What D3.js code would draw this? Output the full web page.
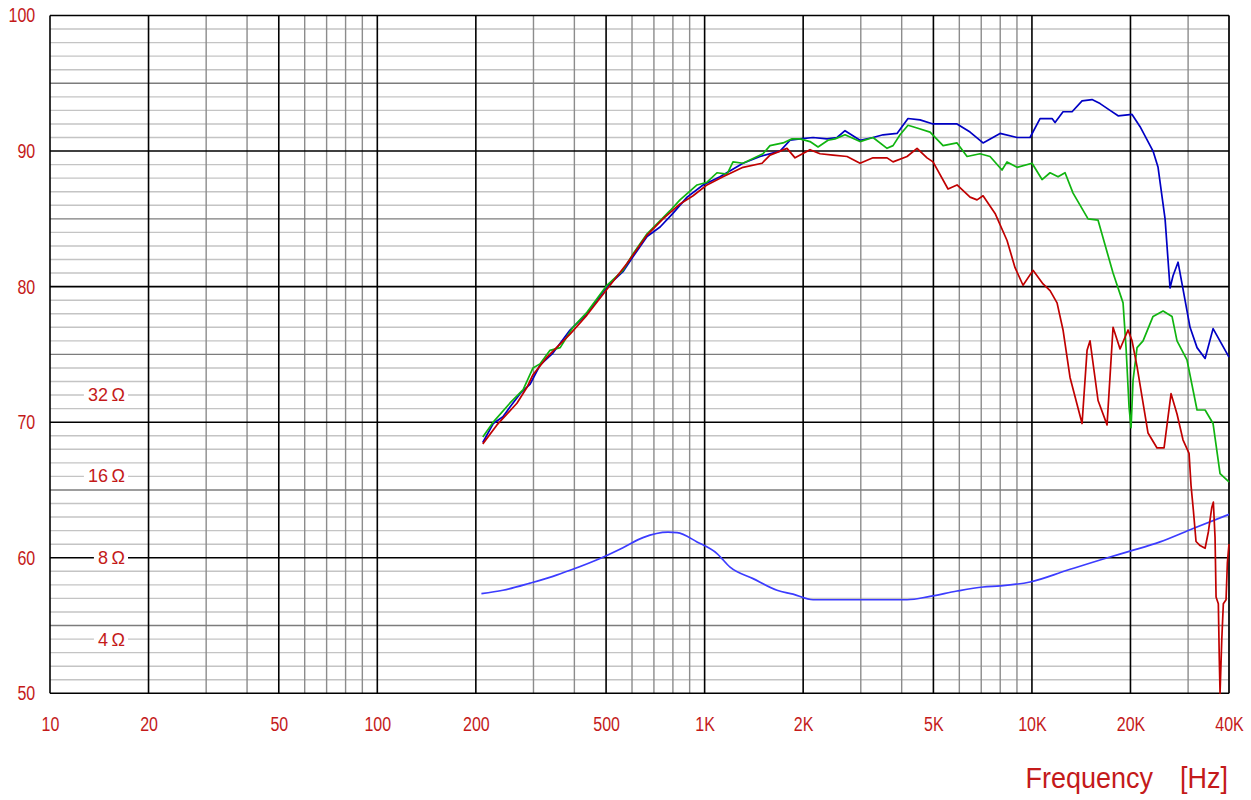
<!DOCTYPE html>
<html>
<head>
<meta charset="utf-8">
<script src="https://cdn.jsdelivr.net/npm/d3@7"></script>
<style>
html,body{margin:0;padding:0;background:#fff;overflow:hidden}
</style>
</head>
<body>
<svg id="chart" width="1251" height="800"></svg>
<script>
// ---------- data ----------
const freqTicks = [10, 20, 50, 100, 200, 500, 1000, 2000, 5000, 10000, 20000, 40000];
const freqTickLabels = ["10", "20", "50", "100", "200", "500", "1K", "2K", "5K", "10K", "20K", "40K"];
const dbTicks = [50, 60, 70, 80, 90, 100];
const ohmTicks = [4, 8, 16, 32];
const ohmTickLabels = ["4\u2009\u03A9", "8\u2009\u03A9", "16\u2009\u03A9", "32\u2009\u03A9"];
const axisTitle = ["Frequency", "[Hz]"];

// SPL, blue (Hz / dB)
const blueFreq = [210,226,242,254,273,293,314,344,388,437,503,563,604,667,731,800,884,989,1114,1310,1477,1700,1824,1956,2144,2366,2539,2685,2984,3269,3509,3871,4182,4551,4986,5904,6471,7090,7990,9006,9867,10586,11520,11766,12445,13262,14228,15262,16151,17324,18333,20225,21400,23442,24284,25512,26419,26984,27950,28749,30410,31945,33810,35760,40000];
const blueDb = [68.5,69.9,70.4,71.1,72.1,72.8,74.2,75.1,76.8,78.0,80.0,81.1,82.2,83.7,84.4,85.4,86.6,87.5,88.1,89.1,89.6,90.0,90.8,90.9,91.0,90.9,91.0,91.5,90.8,91.0,91.2,91.3,92.4,92.3,92.0,92.0,91.4,90.6,91.3,91.0,91.0,92.4,92.4,92.1,92.9,92.9,93.7,93.8,93.5,93.0,92.6,92.7,91.8,90.0,88.8,85.0,79.9,80.8,81.8,80.2,77.0,75.5,74.7,76.9,74.8];

// SPL, green (Hz / dB)
const greenFreq = [210,226,254,279,299,314,337,362,396,437,503,563,604,667,784,841,948,1017,1091,1171,1221,1310,1508,1584,1736,1849,1956,2099,2221,2382,2503,2685,2984,3269,3609,3764,3954,4182,4457,4884,5352,5904,6336,6941,7448,8101,8393,9006,10007,10737,11360,12017,12623,13354,14840,15922,17693,18983,19387,19803,20083,20368,20949,21850,23442,25155,26792,27750,29765,31945,33810,35760,37560,40000];
const greenDb = [68.9,70.0,71.4,72.4,74.0,74.3,75.3,75.5,77.0,78.1,80.1,81.2,82.4,83.9,85.6,86.4,87.5,87.7,88.4,88.3,89.2,89.1,89.8,90.4,90.6,90.9,90.9,90.7,90.3,90.8,90.9,91.2,90.7,91.0,90.2,90.4,91.2,91.9,91.7,91.4,90.4,90.6,89.6,89.8,89.6,88.6,89.2,88.8,89.1,87.9,88.4,88.1,88.4,86.9,85.0,84.9,81.0,78.8,75.5,71.1,69.6,73.1,75.5,76.0,77.8,78.2,77.8,76.0,74.6,70.9,70.9,69.9,66.2,65.6];

// SPL, red (Hz / dB)
const redFreq = [210,232,267,287,299,330,388,437,503,579,667,746,841,922,1017,1138,1310,1498,1584,1785,1889,2099,2252,2468,2724,2984,3269,3609,3764,4154,4457,4781,4986,5542,5904,6471,6797,7090,7716,8393,8880,9393,10078,10813,11360,11933,12445,13074,14228,14737,15050,15922,16963,17693,18587,19664,20225,20949,22630,24110,25332,26607,27750,28938,30200,30630,31130,31720,32630,33810,34590,35430,35830,36260,36520,37110,37370,37560,38010,38440,39180,39540,40000];
const redDb = [68.4,69.8,71.4,72.6,73.5,74.8,76.5,77.9,79.8,81.7,83.8,85.0,86.1,86.7,87.5,88.1,88.8,89.1,89.7,90.2,89.5,90.1,89.8,89.7,89.6,89.1,89.5,89.5,89.2,89.6,90.2,89.5,89.2,87.2,87.5,86.6,86.4,86.7,85.4,83.4,81.4,80.1,81.2,80.2,79.7,78.8,76.8,73.3,69.9,75.3,76.0,71.6,69.8,77.0,75.4,76.8,76.0,74.1,69.2,68.1,68.1,72.1,70.6,68.7,67.7,65.3,63.5,61.2,60.9,60.7,61.9,63.7,64.1,61.5,57.1,56.6,52.4,50.0,53.9,56.6,56.9,59.6,61.0];

// Impedance (Hz / ohm)
const impFreq = [208,242,293,344,388,485,563,648,773,824,948,1091,1196,1406,1664,1863,2144,3000,4154,4884,5904,7089,8000,9867,12802,17325,19937,24630,31070,40000];
const impOhm = [5.90,6.07,6.45,6.83,7.19,8.00,8.71,9.49,9.94,9.90,9.15,8.29,7.39,6.70,6.07,5.87,5.60,5.60,5.60,5.76,6.03,6.24,6.30,6.51,7.19,8.05,8.46,9.15,10.25,11.56];

// ---------- chart ----------
const svg = d3.select("#chart");
const pL = 50, pR = 1229, pT = 15.5, pB = 693.3;
const x = d3.scaleLog().domain([10, 40000]).range([pL, pR]);
const y = d3.scaleLinear().domain([50, 100]).range([pB, pT]);
// impedance scale: 8 ohm sits on 60 dB, 6 dB per doubling
const yOhm = d3.scaleLog().domain([8 * Math.pow(10, -0.5), 8 * Math.pow(10, 2)]).range([pB, pT]);

const textRed = "#c41a1a";
const fontFam = "'Liberation Sans', Arial, sans-serif";

svg.append("rect").attr("width", 1251).attr("height", 800).attr("fill", "#fff");

const grid = svg.append("g");
const dbAll = d3.range(51, 100);
grid.selectAll(".hl").data(dbAll.filter(d => d % 5 !== 0)).join("line")
  .attr("x1", pL).attr("x2", pR).attr("y1", d => y(d)).attr("y2", d => y(d))
  .attr("stroke", "#c4c4c4").attr("stroke-width", 1.4);
const minorF = [], majorF = [];
[10, 100, 1000, 10000].forEach(dec => {
  for (let m = 1; m <= 9; m++) {
    const f = dec * m;
    if (f > 40000) break;
    if (m === 1 || m === 2 || m === 5) majorF.push(f); else minorF.push(f);
  }
});
majorF.push(40000);
grid.selectAll(".vm").data(minorF).join("line")
  .attr("x1", d => x(d)).attr("x2", d => x(d)).attr("y1", pT).attr("y2", pB)
  .attr("stroke", "#8c8c8c").attr("stroke-width", 1.4);
grid.selectAll(".h5").data(dbAll.filter(d => d % 5 === 0 && d % 10 !== 0)).join("line")
  .attr("x1", pL).attr("x2", pR).attr("y1", d => y(d)).attr("y2", d => y(d))
  .attr("stroke", "#7c7c7c").attr("stroke-width", 1.4);
grid.selectAll(".h10").data(dbTicks).join("line")
  .attr("x1", pL).attr("x2", pR).attr("y1", d => y(d)).attr("y2", d => y(d))
  .attr("stroke", "#000").attr("stroke-width", 1.6);
grid.selectAll(".vM").data(majorF).join("line")
  .attr("x1", d => x(d)).attr("x2", d => x(d)).attr("y1", pT).attr("y2", pB)
  .attr("stroke", "#000").attr("stroke-width", 1.6);

// axes
const xAxis = svg.append("g").attr("transform", `translate(0,${pB})`)
  .call(d3.axisBottom(x).tickValues(freqTicks).tickFormat((d, i) => freqTickLabels[i]).tickSize(0).tickPadding(24));
const yAxis = svg.append("g").attr("transform", `translate(${pL},0)`)
  .call(d3.axisLeft(y).tickValues(dbTicks).tickFormat(d3.format("d")).tickSize(0).tickPadding(18.5));
[xAxis, yAxis].forEach(g => {
  g.select(".domain").remove();
  g.selectAll("text").attr("fill", textRed).attr("font-family", fontFam)
    .attr("font-size", 20).attr("transform", "scale(0.8,1)");
});

// impedance labels
const ohmAxis = svg.append("g").attr("transform", "translate(129,0)")
  .call(d3.axisLeft(yOhm).tickValues(ohmTicks).tickFormat((d, i) => ohmTickLabels[i]).tickSize(0).tickPadding(4));
ohmAxis.select(".domain").remove();
ohmAxis.selectAll("text").attr("fill", textRed).attr("font-family", fontFam).attr("font-size", 18);
ohmAxis.selectAll(".tick").each(function () {
  const t = d3.select(this).select("text");
  const bb = t.node().getBBox();
  d3.select(this).insert("rect", "text")
    .attr("x", bb.x - 4).attr("y", bb.y + 2).attr("width", bb.width + 7).attr("height", bb.height - 4)
    .attr("fill", "#fff");
});

// curves
const lineSpl = d3.line().x(d => x(d[0])).y(d => y(d[1]));
const lineImp = d3.line().x(d => x(d[0])).y(d => yOhm(d[1])).curve(d3.curveMonotoneX);
const curves = svg.append("g").attr("fill", "none").attr("stroke-linejoin", "round");
curves.append("path").attr("d", lineImp(d3.zip(impFreq, impOhm))).attr("stroke", "#3c3cff").attr("stroke-width", 1.7);
curves.append("path").attr("d", lineSpl(d3.zip(blueFreq, blueDb))).attr("stroke", "#0000c4").attr("stroke-width", 1.7);
curves.append("path").attr("d", lineSpl(d3.zip(greenFreq, greenDb))).attr("stroke", "#10b410").attr("stroke-width", 1.7);
curves.append("path").attr("d", lineSpl(d3.zip(redFreq, redDb))).attr("stroke", "#c00000").attr("stroke-width", 1.7);

// axis title
svg.append("text").attr("transform", "translate(1153,788) scale(0.9,1)")
  .attr("text-anchor", "end").attr("fill", textRed).attr("font-family", fontFam).attr("font-size", 30)
  .text(axisTitle[0]);
svg.append("text").attr("transform", "translate(1228,788) scale(0.9,1)")
  .attr("text-anchor", "end").attr("fill", textRed).attr("font-family", fontFam).attr("font-size", 30)
  .text(axisTitle[1]);
</script>
</body>
</html>
